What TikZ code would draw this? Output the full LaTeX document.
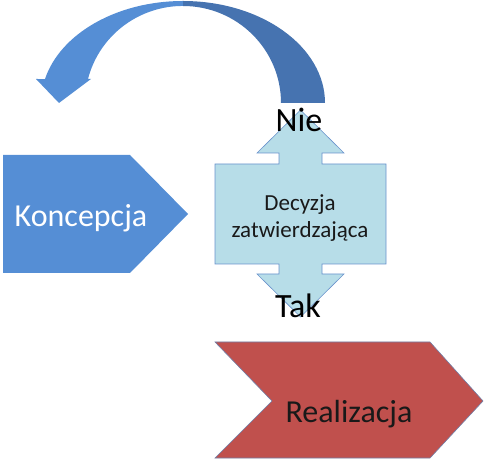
\documentclass[tikz,border=0pt]{standalone}
\usepackage{fontspec}
\setmainfont{Carlito}
\usepackage{xcolor}

\definecolor{koncblue}{RGB}{85,142,213}
\definecolor{backblue}{RGB}{70,115,176}
\definecolor{decfill}{RGB}{183,221,232}
\definecolor{decline}{RGB}{106,147,204}
\definecolor{realred}{RGB}{192,80,77}
\definecolor{realline}{RGB}{111,127,168}

\begin{document}
\begin{tikzpicture}[x=1pt, y=1pt,
    answer/.style={font=\fontsize{34}{40}\selectfont, anchor=base, text=black},
    stage/.style={font=\fontsize{32}{38}\selectfont, anchor=base}]
  \useasboundingbox (0,0) rectangle (487,466);

  % Curved arrow back to the start
  \fill[koncblue] (183,465) arc[start angle=90, end angle=166.4, x radius=142pt, y radius=102pt]
    -- (36,387) -- (59,363) -- (91,387) -- (88,387)
    arc[start angle=165.7, end angle=90, x radius=98pt, y radius=97pt] -- cycle;
  \fill[backblue] (325,363) arc[start angle=0, end angle=90, x radius=142pt, y radius=102pt]
    -- (183,460) arc[start angle=90, end angle=0, x radius=98pt, y radius=97pt] -- cycle;

  % Stages
  \fill[koncblue] (3,193) -- (3,311) -- (130,311) -- (188,252) -- (130,193) -- cycle;
  \draw[realline, line width=0.6pt, fill=realred]
    (215,124) -- (430,124) -- (483,65) -- (430,8) -- (215,8) -- (272,65) -- cycle;

  % Decision box with its two arrows
  \draw[decline, line width=0.6pt, fill=decfill]
    (215,202) -- (215,302) -- (279,302) -- (279,313) -- (257,313) -- (300.5,356)
    -- (344,313) -- (322,313) -- (322,302) -- (386,302) -- (386,202) -- (322,202)
    -- (322,192) -- (344,192) -- (300.5,149) -- (257,192) -- (279,192) -- (279,202) -- cycle;

  \node[stage, text=white] (konc) at (81,239) {Koncepcja};
  \node[stage, text=black!90] (real) at (349,44) {Realizacja};
  \node[font=\fontsize{23}{27}\selectfont, align=center, text=black!90] (dec) at (300,248)
    {Decyzja\\zatwierdzająca};
  \node[answer] (nie) at (299,334) {Nie};
  \node[answer] (tak) at (298,148) {Tak};
\end{tikzpicture}
\end{document}
